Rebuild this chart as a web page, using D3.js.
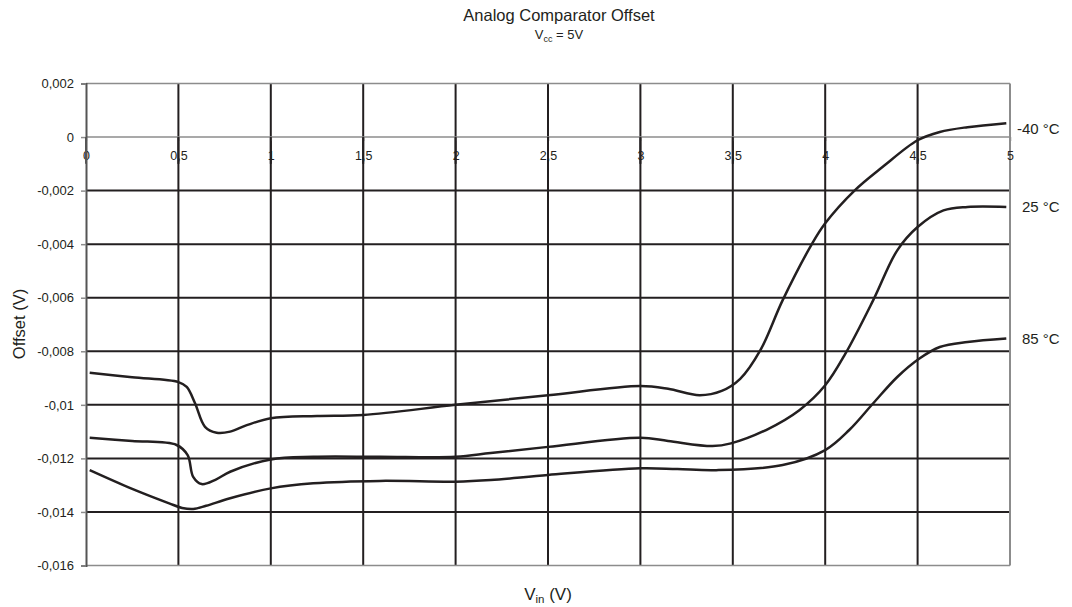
<!DOCTYPE html>
<html>
<head>
<meta charset="utf-8">
<script src="https://cdn.jsdelivr.net/npm/d3@7/dist/d3.min.js"></script>
<style>
  html, body { margin: 0; padding: 0; background: #fff; }
  svg { display: block; font-family: "Liberation Sans", Arial, sans-serif; }
</style>
</head>
<body>
<svg id="chart" width="1072" height="607"></svg>
<script>
// ---- Data ----
const xTicks = [0, 0.5, 1, 1.5, 2, 2.5, 3, 3.5, 4, 4.5, 5];
const yTicks = [0.002, 0, -0.002, -0.004, -0.006, -0.008, -0.01, -0.012, -0.014, -0.016];
const seriesNames = ["-40 °C", "25 °C", "85 °C"];

const xM40 = [0.02, 0.25, 0.5, 0.545, 0.59, 0.644, 0.707, 0.78, 0.87, 1.0, 1.25, 1.5, 2.0, 2.5, 3.0, 3.15, 3.32, 3.44, 3.54, 3.65, 3.77, 3.93, 4.0, 4.16, 4.31, 4.5, 4.62, 4.77, 4.98];
const yM40 = [-0.0088, -0.00897, -0.00915, -0.00933, -0.00994, -0.01082, -0.01104, -0.0110, -0.01076, -0.0105, -0.01042, -0.01038, -0.0100, -0.00964, -0.0093, -0.0094, -0.00964, -0.00948, -0.00903, -0.00795, -0.00609, -0.00397, -0.00322, -0.00199, -0.00112, -0.00012, 0.00019, 0.00037, 0.00052];

const x25 = [0.02, 0.25, 0.49, 0.55, 0.58, 0.626, 0.7, 0.78, 1.0, 1.23, 1.59, 2.0, 2.19, 2.5, 3.0, 3.15, 3.39, 3.49, 3.68, 3.86, 4.0, 4.11, 4.26, 4.39, 4.5, 4.64, 4.77, 4.98];
const y25 = [-0.01123, -0.01135, -0.0115, -0.01188, -0.01269, -0.01296, -0.0128, -0.0125, -0.01204, -0.01194, -0.01194, -0.01194, -0.0118, -0.01157, -0.01123, -0.01135, -0.01154, -0.01144, -0.01094, -0.0102, -0.00927, -0.00808, -0.00609, -0.00423, -0.00336, -0.00274, -0.00261, -0.00261];

const x85 = [0.02, 0.25, 0.45, 0.52, 0.58, 0.65, 0.78, 1.0, 1.23, 1.59, 2.0, 2.19, 2.5, 3.0, 3.2, 3.41, 3.77, 4.0, 4.13, 4.26, 4.39, 4.51, 4.62, 4.77, 4.98];
const y85 = [-0.01244, -0.01314, -0.01368, -0.01385, -0.01389, -0.01377, -0.01349, -0.01312, -0.01293, -0.01284, -0.01287, -0.01281, -0.01262, -0.01237, -0.0124, -0.01244, -0.01225, -0.01169, -0.01094, -0.00994, -0.00896, -0.00827, -0.00784, -0.00765, -0.00752];

// ---- Layout ----
const svg = d3.select("#chart");
const L = 86, R = 1010, T = 83.5, B = 565.5;
const x = d3.scaleLinear().domain([0, 5]).range([L, R]);
const y = d3.scaleLinear().domain([-0.016, 0.002]).range([B, T]);
const ink = "#231f20", gray = "#8c8c8c";
const fmt = d => (+d.toFixed(3)).toString().replace(".", ",");

// Black grid lines
const innerY = yTicks.filter(d => d < 0 && d > -0.016);
svg.append("g").selectAll("line").data(innerY).join("line")
  .attr("x1", L).attr("x2", R).attr("y1", d => y(d)).attr("y2", d => y(d))
  .attr("stroke", ink).attr("stroke-width", 2);
const innerX = xTicks.filter(d => d > 0 && d < 5);
svg.append("g").selectAll("line").data(innerX).join("line")
  .attr("x1", d => x(d)).attr("x2", d => x(d)).attr("y1", T).attr("y2", B)
  .attr("stroke", ink).attr("stroke-width", 2);

// Gray frame lines
[0.002, 0, -0.016].forEach(v => {
  svg.append("line").attr("x1", L).attr("x2", R).attr("y1", y(v)).attr("y2", y(v))
    .attr("stroke", gray).attr("stroke-width", 1.6);
});
svg.append("line").attr("x1", R).attr("x2", R).attr("y1", T).attr("y2", B)
  .attr("stroke", gray).attr("stroke-width", 2);

// Y axis
const yAxis = svg.append("g").attr("transform", `translate(${L},0)`)
  .call(d3.axisLeft(y).tickValues(yTicks).tickFormat(fmt).tickSize(5).tickPadding(7));
yAxis.select(".domain").attr("stroke", "#555").attr("stroke-width", 2);
yAxis.selectAll(".tick line").attr("stroke", gray).attr("stroke-width", 1.5);
yAxis.selectAll("text").attr("font-size", 13).attr("fill", ink)
  .attr("font-family", "Liberation Sans, Arial, sans-serif");

// X axis on zero line
const xAxis = svg.append("g").attr("transform", `translate(0,${y(0)})`)
  .call(d3.axisBottom(x).tickValues(xTicks).tickFormat(fmt).tickSize(4).tickPadding(10));
xAxis.select(".domain").remove();
xAxis.selectAll(".tick line").attr("stroke", gray).attr("stroke-width", 1.5);
xAxis.selectAll("text").attr("font-size", 12.5).attr("fill", ink)
  .attr("font-family", "Liberation Sans, Arial, sans-serif");

// Redraw vertical lines over labels (gridline passes through label)
svg.append("g").selectAll("line").data(innerX).join("line")
  .attr("x1", d => x(d)).attr("x2", d => x(d)).attr("y1", y(0)).attr("y2", y(-0.001))
  .attr("stroke", ink).attr("stroke-width", 2);
svg.append("line").attr("x1", L).attr("x2", L).attr("y1", y(0)).attr("y2", y(-0.001))
  .attr("stroke", "#555").attr("stroke-width", 2);

// Curves
const line = d3.line().x(d => x(d[0])).y(d => y(d[1])).curve(d3.curveCatmullRom.alpha(0.5));
const series = [[xM40, yM40], [x25, y25], [x85, y85]];
series.forEach(([xs, ys]) => {
  svg.append("path").datum(xs.map((v, i) => [v, ys[i]]))
    .attr("d", line).attr("fill", "none").attr("stroke", ink)
    .attr("stroke-width", 2.5).attr("stroke-linejoin", "round");
});

// Series labels
const labelX = [1017, 1022, 1022];
series.forEach(([xs, ys], i) => {
  svg.append("text").attr("x", labelX[i]).attr("y", y(ys[ys.length - 1]) + 5.5 + (i === 0 ? 5 : 0))
    .attr("font-size", 15).attr("fill", ink).text(seriesNames[i]);
});

// Titles
svg.append("text").attr("x", 559).attr("y", 21).attr("text-anchor", "middle")
  .attr("font-size", 16.5).attr("fill", ink).text("Analog Comparator Offset");
const sub = svg.append("text").attr("x", 559).attr("y", 38.5).attr("text-anchor", "middle")
  .attr("font-size", 13).attr("fill", ink);
sub.append("tspan").text("V");
sub.append("tspan").attr("font-size", 9).attr("dy", 3).text("cc");
sub.append("tspan").attr("dy", -3).text(" = 5V");

// Axis titles
svg.append("text").attr("transform", "translate(25,324) rotate(-90)").attr("text-anchor", "middle")
  .attr("font-size", 16.5).attr("fill", ink).text("Offset (V)");
const xl = svg.append("text").attr("x", 548).attr("y", 600).attr("text-anchor", "middle")
  .attr("font-size", 17).attr("fill", ink);
xl.append("tspan").text("V");
xl.append("tspan").attr("font-size", 11.5).attr("dy", 3).text("in");
xl.append("tspan").attr("dy", -3).text(" (V)");
</script>
</body>
</html>
